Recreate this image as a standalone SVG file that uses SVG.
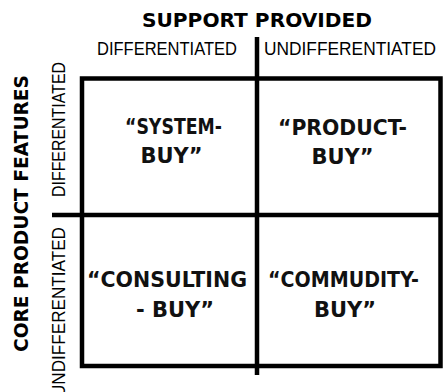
<svg xmlns="http://www.w3.org/2000/svg" width="443" height="392" viewBox="0 0 443 392">
  <style>
    .axis-title { font-family: "DejaVu Sans", Verdana, sans-serif; font-weight: bold; font-size: 19.5px; fill: #000; }
    .axis-label { font-family: "Liberation Sans Narrow", "Liberation Sans", Arial, sans-serif; font-size: 18.5px; fill: #000; }
    .cell { font-family: "DejaVu Sans", Verdana, sans-serif; font-weight: bold; font-size: 21px; fill: #111; text-anchor: middle; }
    .rule { stroke: #000; stroke-width: 4.5; fill: none; }
  </style>

  <rect width="443" height="392" fill="#fff"/>

  <!-- axis titles and category labels -->
  <g id="axis-support">
    <text class="axis-title" x="142" y="27" textLength="230" lengthAdjust="spacingAndGlyphs">SUPPORT PROVIDED</text>
    <text class="axis-label" x="97" y="55" textLength="140" lengthAdjust="spacingAndGlyphs">DIFFERENTIATED</text>
    <text class="axis-label" x="264" y="55" textLength="172" lengthAdjust="spacingAndGlyphs">UNDIFFERENTIATED</text>
  </g>
  <g id="axis-core">
    <text class="axis-title" transform="translate(28,352) rotate(-90)" textLength="277" lengthAdjust="spacingAndGlyphs">CORE PRODUCT FEATURES</text>
    <text class="axis-label" transform="translate(65,197) rotate(-90)" textLength="135" lengthAdjust="spacingAndGlyphs">DIFFERENTIATED</text>
    <text class="axis-label" transform="translate(65,397) rotate(-90)" textLength="170" lengthAdjust="spacingAndGlyphs">UNDIFFERENTIATED</text>
  </g>

  <!-- matrix frame and dividing axes -->
  <g id="connectors">
    <rect class="rule" x="82" y="78.5" width="358.5" height="287.5"/>
    <line class="rule" x1="257" y1="37" x2="257" y2="375"/>
    <line class="rule" x1="52" y1="215" x2="440" y2="215"/>
  </g>

  <!-- quadrants -->
  <g id="system-buy">
    <text class="cell" x="173.5" y="134" textLength="97" lengthAdjust="spacingAndGlyphs">“SYSTEM-</text>
    <text class="cell" x="171.5" y="163">BUY”</text>
  </g>
  <g id="product-buy">
    <text class="cell" x="342.5" y="135" textLength="129" lengthAdjust="spacingAndGlyphs">“PRODUCT-</text>
    <text class="cell" x="342.5" y="164">BUY”</text>
  </g>
  <g id="consulting-buy">
    <text class="cell" x="167" y="287" textLength="160" lengthAdjust="spacingAndGlyphs">“CONSULTING</text>
    <text class="cell" x="175" y="317">- BUY”</text>
  </g>
  <g id="commodity-buy">
    <text class="cell" x="343.5" y="287" textLength="151" lengthAdjust="spacingAndGlyphs">“COMMUDITY-</text>
    <text class="cell" x="345" y="317">BUY”</text>
  </g>
</svg>
